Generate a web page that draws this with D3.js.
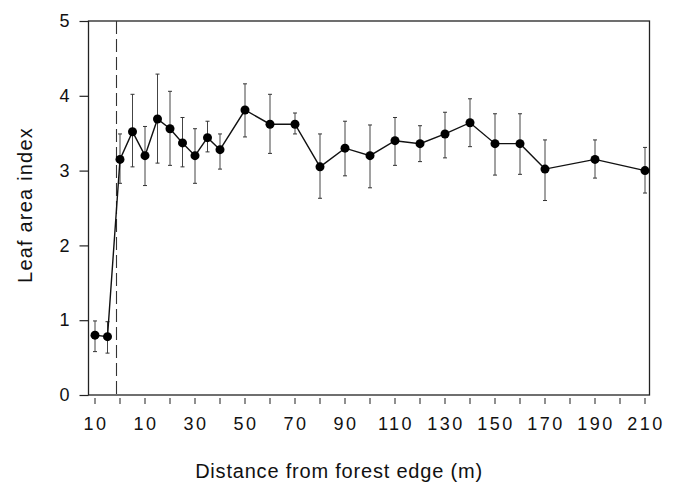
<!DOCTYPE html>
<html>
<head>
<meta charset="utf-8">
<script src="https://cdn.jsdelivr.net/npm/d3@7"></script>
<style>
  body { margin: 0; background: #fff; }
  #chart { width: 675px; height: 484px; }
  text { font-family: "Liberation Sans", Arial, sans-serif; fill: #111; }
  .tickLabel { font-size: 18px; letter-spacing: 2.5px; }
  .axisLabel { font-size: 20px; }
</style>
</head>
<body>
<div id="chart"></div>
<script>
// distance from forest edge (m), negative = pasture side
var distance = [-10, -5, 0, 5, 10, 15, 20, 25, 30, 35, 40, 50, 60, 70, 80, 90, 100, 110, 120, 130, 140, 150, 160, 170, 190, 210];
var lai      = [0.80, 0.78, 3.15, 3.52, 3.20, 3.69, 3.56, 3.37, 3.20, 3.44, 3.28, 3.81, 3.62, 3.62, 3.05, 3.30, 3.20, 3.40, 3.36, 3.49, 3.64, 3.36, 3.36, 3.02, 3.15, 3.00];
var errHigh  = [0.99, 0.98, 3.49, 4.02, 3.59, 4.29, 4.06, 3.71, 3.56, 3.66, 3.49, 4.16, 4.02, 3.77, 3.49, 3.66, 3.61, 3.71, 3.60, 3.78, 3.96, 3.76, 3.76, 3.41, 3.41, 3.31];
var errLow   = [0.58, 0.56, 2.83, 3.05, 2.80, 3.10, 3.07, 3.05, 2.83, 3.25, 3.02, 3.45, 3.23, 3.49, 2.63, 2.93, 2.77, 3.07, 3.12, 3.17, 3.32, 2.94, 2.95, 2.60, 2.90, 2.70];

var xTickValues = d3.range(-10, 211, 10);
var xLabelValues = [-10, 10, 30, 50, 70, 90, 110, 130, 150, 170, 190, 210];
var yTickValues = [0, 1, 2, 3, 4, 5];
var edgePosition = -1.4;

var width = 675;
var height = 484;
var margin = {top: 21, left: 88.5, right: 25.5, bottom: 89};

var svg = d3.select("#chart")
    .append("svg")
    .attr("width", width)
    .attr("height", height);

var xScale = d3.scaleLinear()
    .domain([-12.6, 211.8])
    .range([margin.left, width - margin.right]);

var yScale = d3.scaleLinear()
    .domain([0, 5])
    .range([height - margin.bottom, margin.top]);

var data = distance.map(function(d, i) {
    return {x: d, y: lai[i], hi: errHigh[i], lo: errLow[i]};
});

// frame
svg.append("rect")
    .attr("x", margin.left)
    .attr("y", margin.top)
    .attr("width", width - margin.right - margin.left)
    .attr("height", height - margin.bottom - margin.top)
    .attr("fill", "none")
    .attr("stroke", "#222")
    .attr("stroke-width", 1.3);

// y axis ticks (outside, left)
var yAxis = svg.append("g")
    .attr("transform", "translate(" + margin.left + ",0)")
    .call(d3.axisLeft(yScale).tickValues(yTickValues).tickSize(9).tickPadding(10).tickFormat(d3.format("d")));
yAxis.select(".domain").remove();
yAxis.selectAll("line").attr("stroke", "#222").attr("stroke-width", 1.2);
yAxis.selectAll("text").attr("class", "tickLabel").style("letter-spacing", "0px").attr("font-size", null);

// x axis ticks (below, small gap)
var xAxisG = svg.append("g")
    .attr("transform", "translate(0," + (height - margin.bottom + 3) + ")");
xAxisG.selectAll("line")
    .data(xTickValues)
    .enter()
    .append("line")
    .attr("x1", function(d) { return xScale(d); })
    .attr("x2", function(d) { return xScale(d); })
    .attr("y1", 0)
    .attr("y2", 6)
    .attr("stroke", "#333")
    .attr("stroke-width", 1.1);
xAxisG.selectAll("text")
    .data(xLabelValues)
    .enter()
    .append("text")
    .attr("class", "tickLabel")
    .attr("x", function(d) { return xScale(d) + 1; })
    .attr("y", 32)
    .attr("text-anchor", "middle")
    .text(function(d) { return Math.abs(d); });

// forest edge
svg.append("line")
    .attr("x1", xScale(edgePosition))
    .attr("x2", xScale(edgePosition))
    .attr("y1", margin.top)
    .attr("y2", height - margin.bottom)
    .attr("stroke", "#333")
    .attr("stroke-width", 1.1)
    .attr("stroke-dasharray", "13,5");

// error bars
var bars = svg.append("g").selectAll("g")
    .data(data)
    .enter()
    .append("g");
bars.append("line")
    .attr("x1", function(d) { return xScale(d.x); })
    .attr("x2", function(d) { return xScale(d.x); })
    .attr("y1", function(d) { return yScale(d.lo); })
    .attr("y2", function(d) { return yScale(d.hi); })
    .attr("stroke", "#444")
    .attr("stroke-width", 1);
bars.selectAll(".cap")
    .data(function(d) { return [d.lo, d.hi].map(function(v) { return {x: d.x, v: v}; }); })
    .enter()
    .append("line")
    .attr("class", "cap")
    .attr("x1", function(d) { return xScale(d.x) - 2; })
    .attr("x2", function(d) { return xScale(d.x) + 2; })
    .attr("y1", function(d) { return yScale(d.v); })
    .attr("y2", function(d) { return yScale(d.v); })
    .attr("stroke", "#333")
    .attr("stroke-width", 1);

// line
var line = d3.line()
    .x(function(d) { return xScale(d.x); })
    .y(function(d) { return yScale(d.y); });
svg.append("path")
    .datum(data)
    .attr("d", line)
    .attr("fill", "none")
    .attr("stroke", "#111")
    .attr("stroke-width", 1.4);

// points
svg.selectAll("circle")
    .data(data)
    .enter()
    .append("circle")
    .attr("cx", function(d) { return xScale(d.x); })
    .attr("cy", function(d) { return yScale(d.y); })
    .attr("r", 4.5)
    .attr("fill", "#000");

// axis titles
svg.append("text")
    .attr("class", "axisLabel")
    .attr("x", 339)
    .attr("y", 478)
    .attr("text-anchor", "middle")
    .style("letter-spacing", "0.8px")
    .text("Distance from forest edge (m)");

svg.append("text")
    .attr("class", "axisLabel")
    .attr("transform", "translate(32,205) rotate(-90)")
    .attr("text-anchor", "middle")
    .style("letter-spacing", "1.2px")
    .text("Leaf area index");
</script>
</body>
</html>
